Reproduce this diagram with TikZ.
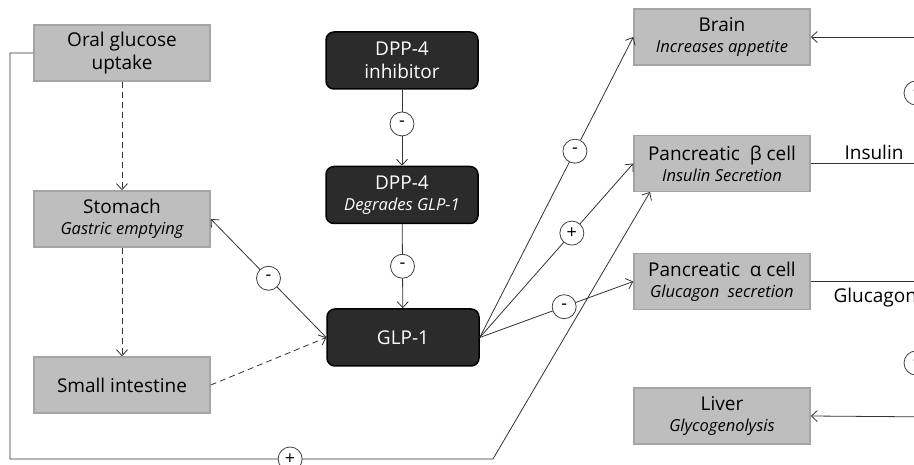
\documentclass[tikz,border=0pt]{standalone}
\usepackage{fontspec}
\setmainfont{Open Sans}
\usetikzlibrary{arrows.meta}
\definecolor{organfill}{RGB}{190,190,190}
\definecolor{organline}{RGB}{165,165,165}
\definecolor{drugfill}{RGB}{43,43,43}
\newcommand{\sub}[1]{\\[-2pt]{\fontsize{16.5}{19}\selectfont\itshape #1}}
\begin{document}
\begin{tikzpicture}[x=1pt, y=-1pt, >={Straight Barb[length=6pt,width=11pt]},
    organ/.style={draw=organline, fill=organfill, line width=1.5pt, minimum width=176pt, minimum height=56pt, inner sep=0pt, align=center, font=\fontsize{19}{23}\selectfont},
    drug/.style={draw=black, fill=drugfill, rounded corners=8pt, line width=1.5pt, text=white, minimum width=152pt, minimum height=57pt, inner sep=0pt, align=center, font=\fontsize{19}{23}\selectfont},
    sign/.style={circle, draw=black!75, fill=white, line width=0.8pt, minimum size=24pt, inner sep=0pt, font=\fontsize{18}{18}\selectfont},
    link/.style={draw=black!80, line width=0.8pt},
    dashlink/.style={link, dash pattern=on 6pt off 4pt}]
    \useasboundingbox (0,0) rectangle (914,465);
    \clip (0,0) rectangle (914,465);

    % gut side
    \node[organ] (oral) at (122,53) {Oral glucose\\uptake};
    \node[organ] (stomach) at (122,219) {Stomach\sub{Gastric emptying}};
    \node[organ] (intestine) at (122,385) {Small intestine};

    % incretin axis
    \node[drug] (inhib) at (402,60.5) {DPP-4\\inhibitor};
    \node[drug] (dpp) at (402,195) {DPP-4\sub{Degrades GLP-1}};
    \node[drug] (glp) at (403,337.5) {GLP-1};

    % target organs
    \node[organ] (brain) at (722,37) {Brain\sub{Increases appetite}};
    \node[organ] (beta) at (722,163.5) {Pancreatic\ \ β cell\sub{Insulin Secretion}};
    \node[organ] (alpha) at (722,281.5) {Pancreatic\ \ α cell\sub{Glucagon\ \ secretion}};
    \node[organ] (liver) at (722,416) {Liver\sub{Glycogenolysis}};

    \coordinate (loopa) at (10,53);
    \coordinate (loopb) at (10,459);
    \coordinate (loopc) at (493,459);
    \coordinate (betain) at (650,192);
    \coordinate (rbrain) at (940,37);
    \coordinate (rbeta) at (940,163.5);
    \coordinate (ralpha) at (940,281.5);
    \coordinate (rliver) at (940,417);

    \draw[dashlink, ->] (oral) -- (stomach);
    \draw[dashlink, ->] (stomach) -- (intestine);
    \draw[dashlink, ->] (intestine.east) -- (glp.west);
    \draw[link, ->] (glp.west) -- node[sign] (m1) {-} (stomach.east);

    \draw[link, ->] (inhib) -- node[sign, pos=0.45] (m2) {-} (dpp);
    \draw[link, ->] (dpp) -- node[sign] (m3) {-} (glp);

    \draw[link, ->] (glp.east) -- node[sign, pos=0.62] (m4) {-} (brain.west);
    \draw[link, ->] (glp.east) -- node[sign, pos=0.6] (m5) {+} (beta.west);
    \draw[link, ->] (glp.east) -- node[sign, pos=0.55] (m6) {-} (alpha.west);

    \draw[link, ->] (oral.west) -- (loopa) -- (loopb) -- node[sign, pos=0.58] (m7) {+} (loopc) -- (betain);

    % hormones out to the right
    \draw[link, ->] (rbrain) -- (brain.east);
    \draw[link] (beta.east) -- (rbeta);
    \node[font=\fontsize{19}{19}\selectfont, anchor=base west] (ins) at (841,160) {Insulin};
    \draw[link] (alpha.east) -- (ralpha);
    \node[font=\fontsize{19}{19}\selectfont, anchor=base west] (glu) at (830,303) {Glucagon};
    \draw[link, ->] (rliver) -- (liver.east);
    \node[sign] (r1) at (916,93) {-};
    \node[sign] (r2) at (916,363) {-};
\end{tikzpicture}
\end{document}
